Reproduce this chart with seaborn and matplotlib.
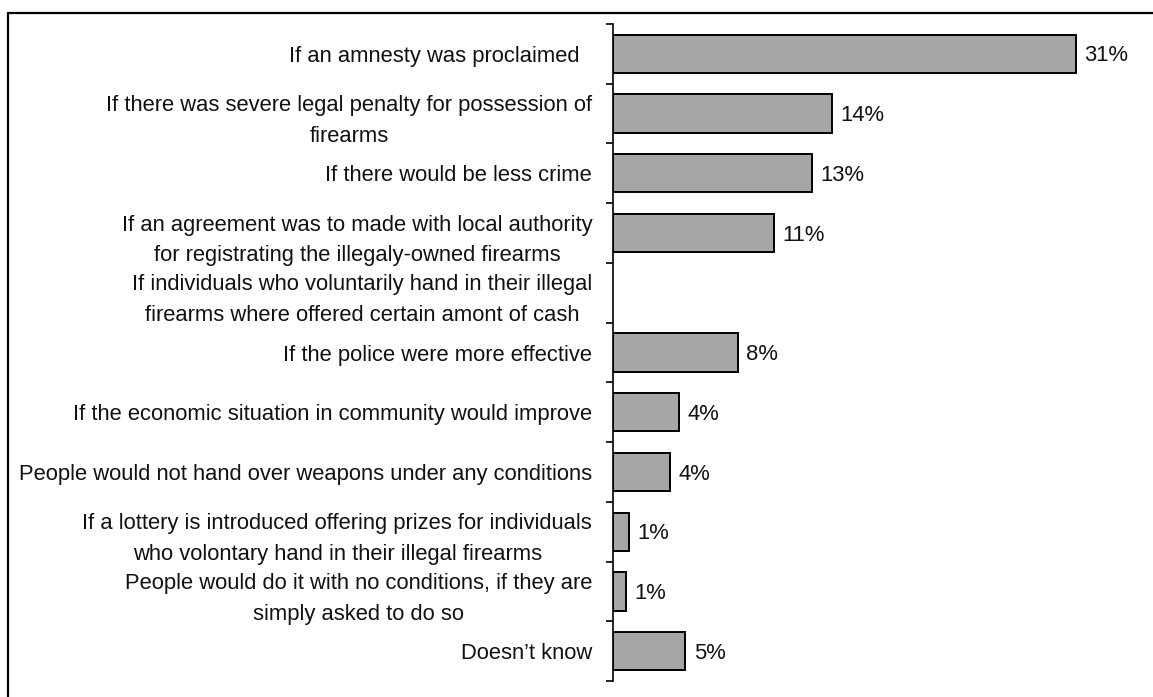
import matplotlib
matplotlib.use("Agg")
import matplotlib.pyplot as plt
from matplotlib.lines import Line2D
import seaborn as sns
import numpy as np
import pandas as pd

categories = [
    "If an amnesty was proclaimed  ",
    "If there was severe legal penalty for possession of\nfirearms",
    "If there would be less crime",
    "If an agreement was to made with local authority\nfor registrating the illegaly-owned firearms",
    "If individuals who voluntarily hand in their illegal\nfirearms where offered certain amont of cash",
    "If the police were more effective",
    "If the economic situation in community would improve",
    "People would not hand over weapons under any conditions",
    "If a lottery is introduced offering prizes for individuals\nwho volontary hand in their illegal firearms",
    "People would do it with no conditions, if they are\nsimply asked to do so",
    "Doesn\u2019t know",
]
values = [31.0, 14.65, 13.3, 10.75, np.nan, 8.35, 4.45, 3.8, 1.1, 0.85, 4.85]
value_labels = ["31%", "14%", "13%", "11%", "", "8%", "4%", "4%", "1%", "1%", "5%"]

sns.set_style("white")
plt.rcParams['font.family'] = ['Liberation Sans', 'DejaVu Sans']

W, H = 1153, 697
fig = plt.figure(figsize=(W / 100, H / 100), dpi=100)
fig.patch.set_facecolor("white")

ax_left, ax_right, ax_top, ax_bottom = 613, 1140, 24, 681
ax = fig.add_axes([ax_left / W, 1 - ax_bottom / H,
                   (ax_right - ax_left) / W, (ax_bottom - ax_top) / H])

df = pd.DataFrame({"cat": categories, "val": values})
sns.barplot(data=df, y="cat", x="val", order=categories, orient="h",
            color="#a6a6a6", saturation=1, width=0.64,
            edgecolor="black", linewidth=1.4, ax=ax, errorbar=None)

for p in ax.patches:
    p.set_facecolor("#a6a6a6")

px_per_unit = 14.94
ax.set_xlim(0, (ax_right - ax_left) / px_per_unit)
ax.set_ylim(len(categories) - 0.5, -0.5)

FS = 15.8
for i, (v, lab) in enumerate(zip(values, value_labels)):
    if lab and not np.isnan(v):
        ax.annotate(lab, xy=(v, i), xytext=(6, -1.5), textcoords="offset points",
                    va="center", ha="left", fontsize=FS, color="#111111")

ax.set_xlabel("")
ax.set_ylabel("")
ax.set_xticks([])
ax.set_yticks(range(len(categories)))
ax.set_yticklabels(categories, fontsize=FS, color="#111111")
for t in ax.get_yticklabels():
    t.set_multialignment("center")
    t.set_linespacing(1.6)
ax.tick_params(axis="y", which="major", length=0, pad=15)
ax.set_yticks(np.arange(-0.5, len(categories), 1.0), minor=True)
ax.tick_params(axis="y", which="minor", length=5, width=1.2, direction="out",
               color="black", left=True)

for s in ["top", "right", "bottom"]:
    ax.spines[s].set_visible(False)
ax.spines["left"].set_linewidth(1.2)
ax.spines["left"].set_color("black")

# outer frame (top and left edges visible)
fig.add_artist(Line2D([8 / W, 1.0], [1 - 13 / H, 1 - 13 / H],
                      transform=fig.transFigure, color="black", lw=1.6))
fig.add_artist(Line2D([8 / W, 8 / W], [1 - 13 / H, 0.0],
                      transform=fig.transFigure, color="black", lw=1.6))

fig.savefig("out.png", dpi=100, facecolor="white")
